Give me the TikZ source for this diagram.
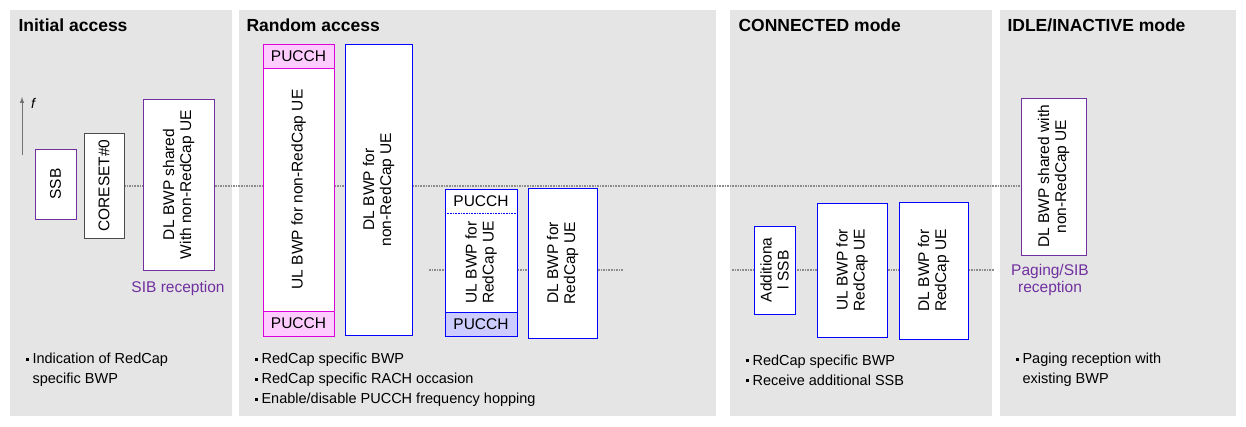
\documentclass[tikz,border=0pt]{standalone}
\usepackage{fontspec}
\setmainfont{Liberation Sans}
\newcommand{\bsq}{\raisebox{3pt}{\rule{3pt}{3pt}}\hspace{4pt}}
\newcommand{\bph}{\hspace{7pt}}
\begin{document}
\begin{tikzpicture}[x=1pt,y=-1pt,
 panel/.style={fill=black!10,draw=none},
 ttl/.style={anchor=west,font=\fontsize{17.5}{19}\selectfont\bfseries},
 box/.style={draw,fill=white,line width=0.9pt},
 rt/.style={rotate=90,align=center,font=\fontsize{15.5}{17}\selectfont},
 lbl/.style={font=\fontsize{15.5}{17}\selectfont},
 bl/.style={anchor=west,align=left,font=\fontsize{14.5}{20}\selectfont},
 dl/.style={densely dotted,line width=1.6pt,black!45},
 pur/.style={draw={rgb,255:red,112;green,48;blue,160}},
 blu/.style={draw=blue},
 mag/.style={draw={rgb,255:red,220;green,0;blue,220}}]
\definecolor{purp}{RGB}{112,48,160}
\useasboundingbox (0,0) rectangle (1246,427);
\fill[white] (0,0) rectangle (1246,427);
\fill[panel] (10,10) rectangle (232,416);
\fill[panel] (239,10) rectangle (716,416);
\fill[panel] (730,10) rectangle (992,416);
\fill[panel] (1000,10) rectangle (1236,416);
\node[ttl] (t1) at (15,25) {Initial access};
\node[ttl] (t2) at (243,25) {Random access};
\node[ttl] (t3) at (735,25) {CONNECTED mode};
\node[ttl] (t4) at (1004,25) {IDLE/INACTIVE mode};
% dotted lines
\coordinate (u1) at (124,186); \coordinate (u2) at (1021,186);
\draw[dl] (u1) -- (u2);
\coordinate (l1) at (429,270); \coordinate (l2) at (623,270);
\coordinate (l3) at (732,270); \coordinate (l4) at (994,270);
\draw[dl] (l1) -- (l2);
\draw[dl] (l3) -- (l4);
% f arrow
\coordinate (fa) at (22,155); \coordinate (fb) at (22,97);
\draw[-latex,black!55,line width=1pt] (fa) -- (fb);
\node[font=\fontsize{14}{15}\selectfont\itshape] (f) at (33,103) {f};
% initial access
\draw[box,pur] (35,149) rectangle (76,219);
\node[rt] (ssb) at (55.5,184) {SSB};
\draw[box,draw=black!70] (84,133) rectangle (124,238);
\node[rt] (cor) at (104,185.5) {CORESET\#0};
\draw[box,pur] (143,99) rectangle (214,270);
\node[rt] (dlsh) at (178.5,184.5) {DL BWP shared\\With non-RedCap UE};
\node[lbl,text=purp] (sib) at (178,288) {SIB reception};
% random access
\draw[box,mag] (263,44) rectangle (334,336);
\draw[mag,fill={rgb,255:red,255;green,204;blue,255},line width=0.9pt] (263,44) rectangle (334,68);
\draw[mag,fill={rgb,255:red,255;green,204;blue,255},line width=0.9pt] (263,311) rectangle (334,336);
\node[lbl] (p1) at (298.5,56) {PUCCH};
\node[lbl] (p2) at (298.5,323.5) {PUCCH};
\node[rt] (ulnr) at (298.5,189.5) {UL BWP for non-RedCap UE};
\draw[box,blu] (345,44) rectangle (412,335);
\node[rt] (dlnr) at (378.5,189.5) {DL BWP for\\non-RedCap UE};
\draw[box,blu] (445,189) rectangle (517,336);
\draw[blue,densely dotted,line width=0.6pt] (445,213) -- (517,213);
\draw[blu,fill={rgb,255:red,204;green,204;blue,255},line width=0.9pt] (445,312) rectangle (517,336);
\node[lbl] (p3) at (481,201) {PUCCH};
\node[lbl] (p4) at (481,324) {PUCCH};
\node[rt] (ulrc) at (481,262.5) {UL BWP for\\RedCap UE};
\draw[box,blu] (528,188) rectangle (597,338);
\node[rt] (dlrc) at (562.5,263) {DL BWP for\\RedCap UE};
% connected
\draw[box,blu] (754,226) rectangle (795,314);
\node[rt] (add) at (774.5,270) {Additiona\\l SSB};
\draw[box,blu] (817,203) rectangle (887,337);
\node[rt] (ulc) at (852,270) {UL BWP for\\RedCap UE};
\draw[box,blu] (899,202) rectangle (968,339);
\node[rt] (dlc) at (933.5,270.5) {DL BWP for\\RedCap UE};
% idle
\draw[box,pur] (1021,98) rectangle (1086,255);
\node[rt] (dli) at (1053.5,176.5) {DL BWP shared with\\non-RedCap UE};
\node[lbl,text=purp,align=center] (pg) at (1050,280) {Paging/SIB\\reception};
% bullets
\node[bl] (b1) at (22,370) {\bsq Indication of RedCap\\\bph specific BWP};
\node[bl] (b2) at (251,380) {\bsq RedCap specific BWP\\\bsq RedCap specific RACH occasion\\\bsq Enable/disable PUCCH frequency hopping};
\node[bl] (b3) at (742,370) {\bsq RedCap specific BWP\\\bsq Receive additional SSB};
\node[bl] (b4) at (1012,370) {\bsq Paging reception with\\\bph existing BWP};
\end{tikzpicture}
\end{document}
